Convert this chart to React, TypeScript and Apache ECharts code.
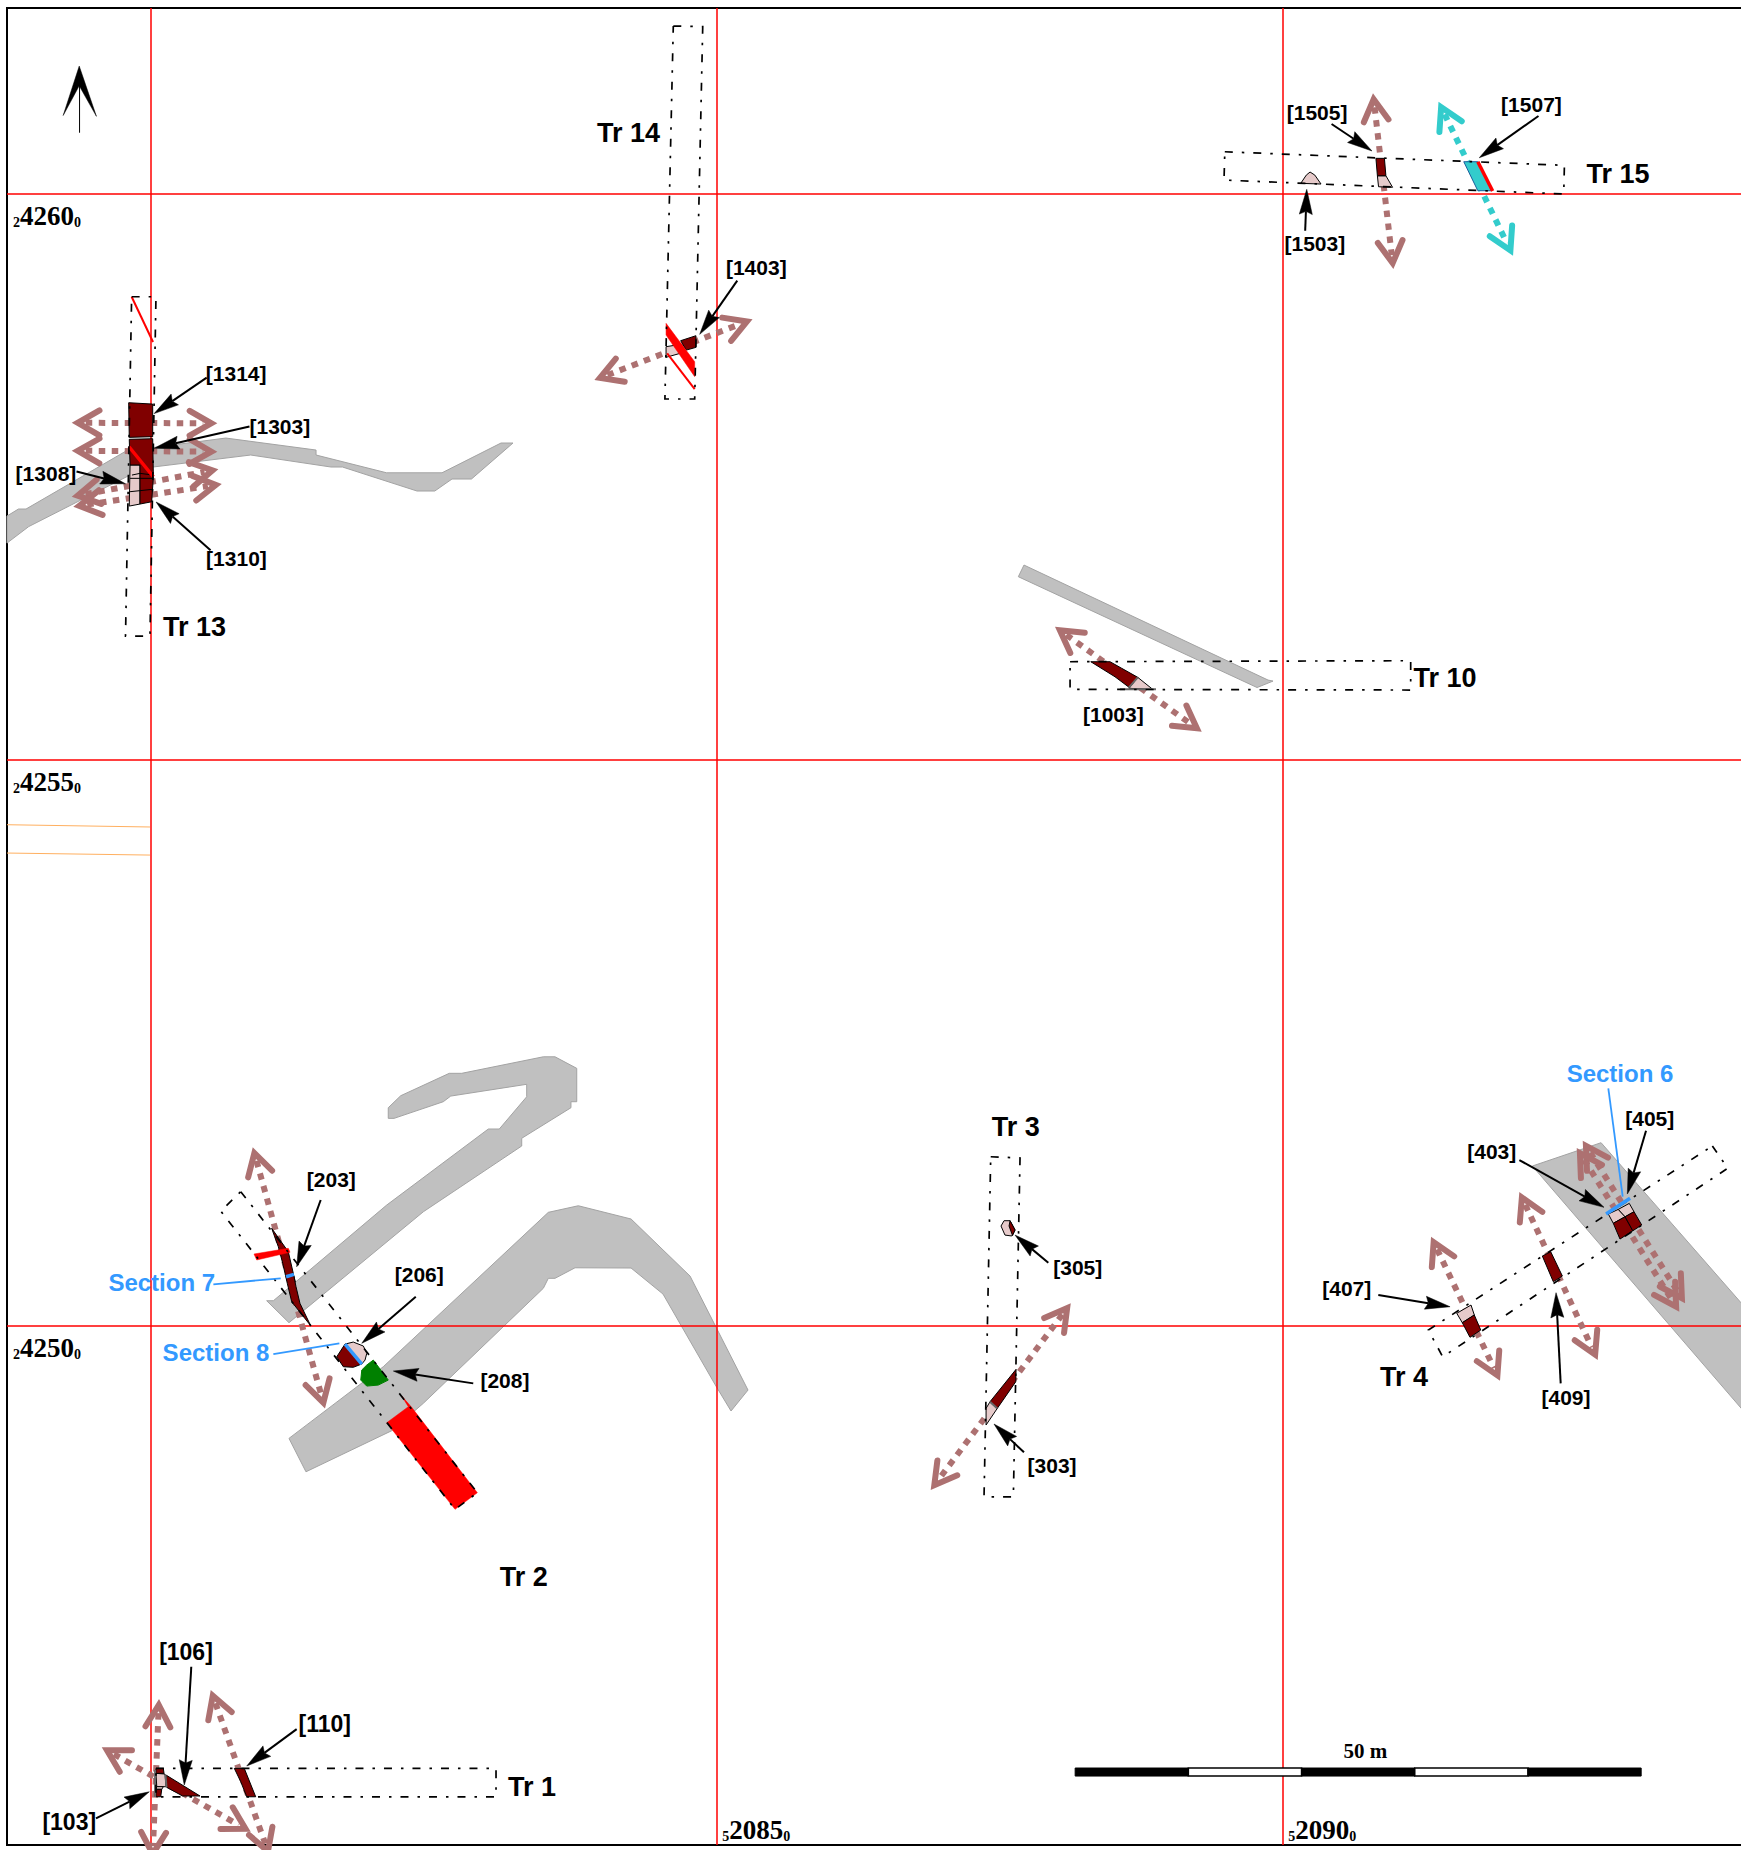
import React, { useEffect, useRef } from "react";
import * as echarts from "echarts";

type P = [number, number];

// Grid origin of the survey (easting, northing); every shape below is metres from it.
const E0 = 520800;
const N0 = 242500;
const eastings = [520800, 520850, 520900];
const eastingLabels = [520850, 520900];
const northings = [242500, 242550, 242600];

const greyDeposits: P[][] = [
  [[-12.66, 71.52], [-11.65, 72.14], [-10.98, 72.14], [-2.15, 77.26], [6.67, 78.41], [14.64, 77.35], [14.64, 76.91], [20.87, 75.34], [25.77, 75.34], [30.98, 77.97], [32.04, 77.97], [28.37, 74.79], [26.65, 74.79], [25.13, 73.73], [23.56, 73.73], [16.98, 75.85], [15.96, 75.85], [8.87, 76.91], [0.24, 75.85], [-1.79, 75.14], [-10.74, 70.59], [-12.66, 69.13]],
  [[77.18, 67.19], [98.74, 57.03], [99.18, 56.94], [97.77, 56.37], [76.68, 66.16]],
  [[10.28, 2.2], [10.87, 2.2], [20.88, 10.65], [29.86, 17.37], [30.83, 17.37], [33.25, 20.22], [33.25, 21.32], [26.54, 20.28], [25.88, 19.78], [21.53, 18.31], [21.02, 18.31], [21.02, 19.25], [22.12, 20.31], [26.41, 22.29], [27.51, 22.29], [34.72, 23.75], [35.75, 23.75], [37.67, 22.73], [37.67, 19.78], [37.16, 19.78], [37.16, 19.25], [32.81, 16.55], [32.81, 15.87], [24.12, 10.06], [12.25, 0.26]],
  [[12.25, -9.96], [20.58, -3.63], [35.16, 10.01], [37.81, 10.59], [42.47, 9.42], [47.68, 4.38], [52.8, -5.69], [51.3, -7.54], [49.97, -5.34], [45.29, 2.79], [42.47, 5.09], [37.52, 5.11], [35.75, 4.18], [35.16, 4.18], [34.72, 3.3], [24.12, -6.86], [21.33, -9.28], [13.75, -12.91]],
  [[122.09, 14.1], [128.16, 16.16], [141.32, 1.11], [141.32, -8.21]],
];

const orangeLines: P[][] = [
  [[-12.66, 44.25], [-0.03, 44.05]],
  [[-12.66, 41.75], [-0.03, 41.57]],
];

const brownArrows: P[][] = [
  [[-6.94, 79.76], [5.92, 79.71]],
  [[-6.94, 77.29], [5.92, 77.2]],
  [[-6.94, 73.22], [6.01, 75.65]],
  [[-6.8, 72.34], [6.31, 74.35]],
  [[39.23, 83.53], [53.2, 88.9]],
  [[108.01, 108.86], [109.81, 93.34]],
  [[79.92, 61.74], [92.88, 52.46]],
  [[9.05, 15.75], [15.43, -7.31]],
  [[0.77, -32.99], [0.19, -47.21]],
  [[-4.29, -37.25], [8.87, -44.71]],
  [[5.34, -32.19], [10.57, -46.94]],
  [[113.14, 7.85], [119.23, -4.87]],
  [[120.94, 11.8], [127.86, -3.04]],
  [[126.54, 16.33], [135.58, 1.97]],
  [[126.01, 15.69], [135.07, 1.23]],
  [[81.31, 1.97], [68.94, -14.52]],
];
const cyanArrows: P[][] = [[[113.8, 108.12], [120.38, 94.51]]];

const trenchOutlines: P[][] = [
  [[-1.65, 90.89], [0.5, 90.89], [-0.03, 60.92], [-2.19, 60.92]],
  [[46.2, 114.81], [48.8, 114.75], [48.09, 81.86], [45.46, 81.86]],
  [[94.92, 103.7], [124.92, 102.5], [124.86, 99.97], [94.85, 101.2]],
  [[81.25, 58.65], [111.34, 58.74], [111.34, 56.15], [81.25, 56.21]],
  [[7.99, 11.83], [28.89, -14.76], [26.92, -16.23], [6.22, 10.12]],
  [[74.24, 14.92], [76.83, 14.81], [76.24, -15.12], [73.65, -15.12]],
  [[137.99, 15.87], [139.35, 13.9], [114.17, -2.75], [112.9, -0.39]],
  [[0.5, -39.11], [30.54, -39.11], [30.54, -41.62], [0.5, -41.62]],
];

const pinkCuts: P[][] = [
  [[-1.79, 76.03], [-0.91, 76.03], [-0.91, 72.58], [-1.86, 72.4]],
  [[45.56, 86.48], [46.5, 86.63], [47.01, 85.95], [45.56, 85.54]],
  [[101.63, 100.91], [102.12, 101.64], [102.45, 101.91], [102.87, 101.64], [103.42, 100.85]],
  [[108.4, 101.58], [109.15, 101.58], [109.74, 100.56], [108.5, 100.61]],
  [[87.23, 57.27], [88.55, 56.21], [86.46, 56.3]],
  [[12.05, 4.27], [12.69, 4.38], [12.81, 3.85], [12.16, 3.74]],
  [[17.2, -1.63], [17.93, -1.45], [18.82, -1.8], [19.12, -2.45], [18.97, -3.04], [18.68, -3.39]],
  [[74.18, -6.72], [74.82, -7.31], [73.83, -8.78], [73.83, -7.31]],
  [[75.42, 9.27], [75.95, 9.27], [76.39, 8.45], [76.1, 7.92], [75.5, 8.0], [75.15, 8.8]],
  [[115.41, 1.09], [116.67, 1.82], [116.96, 0.94], [115.9, 0.26]],
  [[128.8, 9.86], [129.68, 10.27], [130.28, 9.62], [129.24, 9.04]],
  [[129.68, 10.27], [130.65, 10.8], [131.07, 10.06], [130.28, 9.62]],
  [[0.5, -39.55], [1.3, -39.61], [1.39, -40.73], [0.57, -40.73]],
  [[0.57, -40.73], [1.15, -40.73], [1.01, -40.96], [0.5, -40.96]],
];

const darkCuts: P[][] = [
  [[-1.91, 81.53], [0.21, 81.41], [0.21, 78.53], [-1.86, 78.47]],
  [[-1.86, 78.3], [0.21, 78.35], [0.27, 74.99], [0.12, 72.78], [-0.91, 72.58], [-0.91, 76.03], [-1.79, 76.03]],
  [[46.85, 87.01], [48.2, 87.45], [48.2, 86.42], [47.35, 86.18]],
  [[108.27, 103.12], [109.02, 103.12], [109.15, 101.58], [108.4, 101.58]],
  [[83.08, 58.65], [84.78, 58.65], [85.81, 58.07], [87.23, 57.27], [86.46, 56.39], [85.22, 57.32]],
  [[10.72, 8.6], [12.19, 6.53], [12.63, 4.62], [12.87, 3.44], [13.22, 1.97], [14.17, -0.01], [12.49, 2.11], [12.1, 3.74], [11.7, 5.5], [11.31, 6.97]],
  [[16.47, -2.75], [17.2, -1.63], [18.68, -3.39], [17.93, -3.68], [17.05, -3.63]],
  [[76.48, -3.86], [76.45, -4.96], [74.82, -7.31], [74.18, -6.72]],
  [[75.95, 9.27], [76.39, 8.45], [76.17, 7.96], [75.86, 8.8]],
  [[115.9, 0.26], [116.96, 0.94], [117.53, -0.39], [116.58, -1.03]],
  [[122.97, 6.15], [123.71, 6.53], [124.74, 4.38], [123.94, 3.88]],
  [[129.24, 9.04], [130.28, 9.62], [130.96, 8.38], [129.83, 7.65]],
  [[130.28, 9.62], [131.07, 10.06], [131.75, 8.89], [130.96, 8.38]],
  [[0.5, -39.11], [1.15, -39.11], [1.21, -39.55], [0.5, -39.55]],
  [[0.5, -40.96], [1.01, -40.96], [0.92, -41.62], [0.5, -41.62]],
  [[1.39, -39.7], [4.39, -41.55], [2.86, -41.55], [1.45, -40.79]],
  [[7.42, -39.11], [8.3, -39.11], [9.31, -41.62], [8.52, -41.62], [7.99, -40.29]],
];

const cyanCuts: P[][] = [[[116.03, 102.82], [117.27, 102.82], [118.48, 100.26], [117.27, 100.26]]];
const greenCuts: P[][] = [[[19.7, -3.04], [21.02, -4.81], [20.14, -5.25], [19.12, -5.34], [18.59, -4.81], [18.68, -3.92], [19.12, -3.48]]];
const redBlocks: P[][] = [
  [[45.56, 88.54], [48.09, 85.15], [48.09, 83.83], [45.56, 87.51]],
  [[9.16, 6.33], [12.19, 6.83], [12.34, 6.48], [9.4, 5.8]],
  [[20.88, -8.58], [22.79, -7.16], [22.21, -6.22], [23.09, -7.22], [28.89, -14.76], [26.92, -16.23]],
];
const redThinLines: P[][] = [
  [[-1.65, 90.89], [0.24, 86.89]],
  [[45.66, 85.89], [48.09, 82.74]],
];
const redThickLines: P[][] = [
  [[-1.88, 77.64], [0.27, 74.99]],
  [[117.27, 102.82], [118.58, 100.23]],
];
const blueSections: P[][] = [
  [[11.99, 4.32], [12.69, 4.53]],
  [[17.2, -1.63], [18.68, -3.39]],
  [[128.6, 9.86], [130.72, 11.25]],
];
const blueLeaders: P[][] = [
  [[5.57, 3.65], [11.52, 4.18]],
  [[10.87, -2.51], [16.7, -1.56]],
  [[128.8, 20.96], [130.07, 11.39]],
];
const blackSeams: P[][] = [
  [[-1.79, 74.85], [0.21, 74.85]],
  [[-1.79, 73.67], [0.21, 73.88]],
  [[-1.62, 75.14], [-0.91, 75.29], [0.24, 75.14]],
];
const greySeams: P[][] = [
  [[87.23, 57.27], [86.46, 56.39]],
  [[85.66, 56.21], [88.84, 56.21]],
  [[74.18, -6.72], [74.82, -7.31]],
  [[0.42, -39.26], [0.42, -41.64]],
  [[1.34, -39.7], [1.43, -40.76]],
];

const leaderArrows: P[][] = [
  [[4.98, 83.75], [0.34, 80.57]],
  [[8.76, 79.43], [0.34, 77.51]],
  [[-6.52, 75.46], [-2.19, 74.37]],
  [[5.32, 68.5], [0.51, 72.76]],
  [[51.85, 92.31], [48.53, 87.57]],
  [[104.35, 106.15], [107.92, 103.77]],
  [[122.63, 106.86], [117.4, 103.17]],
  [[102.02, 96.72], [102.16, 100.38]],
  [[15.05, 11.1], [12.93, 5.2]],
  [[23.45, 2.55], [18.68, -1.56]],
  [[28.53, -5.1], [21.47, -4.01]],
  [[3.62, -30.13], [3.0, -40.58]],
  [[12.93, -35.64], [8.52, -38.9]],
  [[-4.8, -43.52], [-0.09, -41.18]],
  [[120.94, 14.63], [128.42, 10.45]],
  [[132.13, 17.22], [130.48, 11.63]],
  [[108.48, 2.7], [114.82, 1.67]],
  [[124.59, -5.1], [124.18, 2.91]],
  [[79.33, 5.56], [76.39, 8.0]],
  [[77.18, -11.19], [74.53, -8.69]],
];

const northArrowShaft: P[][] = [[[-6.25, 110.97], [-6.25, 105.38]]];
const northArrowHead: P[][] = [[[-6.28, 111.27], [-4.76, 106.83], [-6.28, 109.53], [-7.7, 106.9]]];

const scaleBarStart = 81.7;
const scaleBarTop = -39.08;
const scaleBarBottom = -39.79;
const scaleBarSegmentMetres = [10, 10, 10, 10, 10];

const cutLabels: [string, number, number][] = [
  ["[1314]", 7.58, 84.14], ["[1303]", 11.44, 79.46], ["[1308]", -9.22, 75.3], ["[1310]", 7.61, 67.73],
  ["[1403]", 53.53, 93.5], ["[1505]", 103.07, 107.18], ["[1507]", 122.01, 107.87], ["[1503]", 102.87, 95.62],
  ["[1003]", 85.07, 53.98], ["[203]", 15.99, 12.9], ["[206]", 23.76, 4.51], ["[208]", 31.33, -4.88],
  ["[305]", 81.93, 5.16], ["[303]", 79.66, -12.36], ["[405]", 132.46, 18.26], ["[403]", 118.5, 15.37],
  ["[407]", 105.69, 3.31], ["[409]", 125.06, -6.32],
];
const cutLabelsLarge: [string, number, number][] = [
  ["[106]", 3.15, -28.86], ["[110]", 15.41, -35.19], ["[103]", -7.16, -43.88],
];
const trenchLabels: [string, number, number][] = [
  ["Tr 13", 3.9, 61.76], ["Tr 14", 42.24, 105.4], ["Tr 15", 129.66, 101.73], ["Tr 10", 114.37, 57.17],
  ["Tr 2", 32.99, -22.17], ["Tr 1", 33.72, -40.72], ["Tr 3", 76.45, 17.57], ["Tr 4", 110.75, -4.57],
];
const sectionLabels: [string, number, number][] = [
  ["Section 7", 1.01, 3.79], ["Section 8", 5.8, -2.39], ["Section 6", 129.83, 22.29],
];
const scaleLabels: [string, number, number][] = [["50 m", 107.33, -37.6]];

const RED = "#ff0000";
const BROWN = "#ad7171";
const CYAN = "#33cccc";
const BLUE = "#3399ff";
const SANS = "'Liberation Sans', Arial, sans-serif";
const SERIF = "'Liberation Serif', 'Times New Roman', serif";

const toPx = (api: any, p: P): number[] => api.coord([E0 + p[0], N0 + p[1]]);

function series<T>(name: string, items: T[], z: number, draw: (item: T, api: any, i: number) => any) {
  return {
    type: "custom",
    name,
    coordinateSystem: "cartesian2d",
    silent: true,
    clip: false,
    z,
    data: items.map((_, i) => [i, i]),
    renderItem: (params: any, api: any) => draw(items[params.dataIndex], api, params.dataIndex),
  };
}

const fillSeries = (name: string, polys: P[][], z: number, fill: string, stroke: string, lineWidth: number) =>
  series(name, polys, z, (poly, api) => ({
    type: "polygon",
    shape: { points: poly.map((p) => toPx(api, p)) },
    style: { fill, stroke, lineWidth },
  }));

const lineSeries = (name: string, lines: P[][], z: number, stroke: string, lineWidth: number, lineDash?: number[], closed = false) =>
  series(name, lines, z, (line, api) => ({
    type: "polyline",
    shape: { points: (closed ? [...line, line[0]] : line).map((p) => toPx(api, p)) },
    style: { fill: null, stroke, lineWidth, lineDash: lineDash ?? null },
  }));

function doubleArrow(pair: P[], api: any, colour: string) {
  const a = toPx(api, pair[0]);
  const b = toPx(api, pair[1]);
  const len = Math.hypot(b[0] - a[0], b[1] - a[1]);
  const ux = (b[0] - a[0]) / len;
  const uy = (b[1] - a[1]) / len;
  const width = 6;
  const head = (tip: number[], dx: number, dy: number) => {
    const inset = 6;
    const vx = tip[0] + dx * inset;
    const vy = tip[1] + dy * inset;
    const arm = 25;
    const cos = Math.cos(0.52);
    const sin = Math.sin(0.52);
    return {
      type: "polyline",
      shape: {
        points: [
          [vx + arm * (dx * cos - dy * sin), vy + arm * (dy * cos + dx * sin)],
          [vx, vy],
          [vx + arm * (dx * cos + dy * sin), vy + arm * (dy * cos - dx * sin)],
        ],
      },
      style: { fill: null, stroke: colour, lineWidth: width, lineCap: "round", lineJoin: "miter" },
    };
  };
  return {
    type: "group",
    children: [
      {
        type: "line",
        shape: { x1: a[0] + ux * 14, y1: a[1] + uy * 14, x2: b[0] - ux * 14, y2: b[1] - uy * 14 },
        style: { stroke: colour, lineWidth: width, lineDash: [6.5, 6.5] },
      },
      head(a, ux, uy),
      head(b, -ux, -uy),
    ],
  };
}

function leader(pair: P[], api: any) {
  const a = toPx(api, pair[0]);
  const t = toPx(api, pair[1]);
  const len = Math.hypot(t[0] - a[0], t[1] - a[1]);
  const ux = (t[0] - a[0]) / len;
  const uy = (t[1] - a[1]) / len;
  const hl = 25;
  const hw = 6.5;
  const bx = t[0] - ux * hl;
  const by = t[1] - uy * hl;
  const nx = t[0] - ux * (hl - 3);
  const ny = t[1] - uy * (hl - 3);
  return {
    type: "group",
    children: [
      { type: "line", shape: { x1: a[0], y1: a[1], x2: nx, y2: ny }, style: { stroke: "#000", lineWidth: 2 } },
      {
        type: "polygon",
        shape: { points: [t, [bx - uy * hw, by + ux * hw], [nx, ny], [bx + uy * hw, by - ux * hw]] },
        style: { fill: "#000", stroke: "#000", lineWidth: 0.5 },
      },
    ],
  };
}

const textSeries = (name: string, labels: [string, number, number][], fontSize: number, fill: string, fontFamily: string) =>
  series(name, labels, 20, (label, api) => {
    const c = toPx(api, [label[1], label[2]]);
    return {
      type: "text",
      x: c[0],
      y: c[1],
      style: { text: label[0], fontSize, fontWeight: "bold", fontFamily, fill, align: "center", verticalAlign: "middle" },
    };
  });

const coordLabel = (v: number) => {
  const s = String(Math.round(v));
  return `{s|${s[0]}}{b|${s.slice(1, 5)}}{s|${s[5]}}`;
};
const coordRich = {
  s: { fontFamily: SERIF, fontWeight: "bold", fontSize: 14, color: "#000", verticalAlign: "bottom" },
  b: { fontFamily: SERIF, fontWeight: "bold", fontSize: 27, color: "#000", verticalAlign: "bottom" },
};

const scaleBars = scaleBarSegmentMetres.map((w, i) => ({
  from: scaleBarStart + scaleBarSegmentMetres.slice(0, i).reduce((a, b) => a + b, 0),
  to: scaleBarStart + scaleBarSegmentMetres.slice(0, i + 1).reduce((a, b) => a + b, 0),
  black: i % 2 === 0,
}));

export default function App() {
  const ref = useRef<HTMLDivElement>(null);
  useEffect(() => {
    if (!ref.current) return;
    const chart = echarts.init(ref.current, undefined, { renderer: "svg" });
    chart.setOption({
      animation: false,
      backgroundColor: "#fff",
      grid: { show: true, left: 7, top: 8, width: 1746, height: 1837, outerBoundsMode: "none", borderColor: "#000", borderWidth: 2, backgroundColor: "transparent" },
      xAxis: {
        type: "value",
        z: 3,
        min: E0 - 12.66,
        max: E0 + 141.58,
        axisLine: { show: false },
        axisTick: { show: false, customValues: eastings },
        splitLine: { show: true, lineStyle: { color: RED, width: 1.5 } },
        axisLabel: {
          inside: true,
          margin: 2,
          align: "left",
          verticalAlign: "bottom",
          padding: [0, 0, 0, 6],
          customValues: eastingLabels,
          formatter: coordLabel,
          rich: coordRich,
        },
      },
      yAxis: {
        type: "value",
        z: 3,
        min: N0 - 45.88,
        max: N0 + 116.4,
        axisLine: { show: false },
        axisTick: { show: false, customValues: northings },
        splitLine: { show: true, lineStyle: { color: RED, width: 1.5 } },
        axisLabel: {
          inside: true,
          margin: 6,
          align: "left",
          verticalAlign: "top",
          padding: [9, 0, 0, 0],
          customValues: northings,
          formatter: coordLabel,
          rich: coordRich,
        },
      },
      series: [
        fillSeries("Grey deposits", greyDeposits, 1, "#c0c0c0", "#a3a3a3", 1),
        lineSeries("Orange lines", orangeLines, 4, "#ffb060", 1),
        series("Brown arrows", brownArrows, 5, (pair, api) => doubleArrow(pair, api, BROWN)),
        series("Cyan arrows", cyanArrows, 5, (pair, api) => doubleArrow(pair, api, CYAN)),
        fillSeries("Pink cuts", pinkCuts, 6, "#e6caca", "#000", 1),
        fillSeries("Dark cuts", darkCuts, 6, "#800000", "#000", 1),
        fillSeries("Cyan cuts", cyanCuts, 6, CYAN, "#1a5f9e", 1),
        fillSeries("Green cuts", greenCuts, 6, "#008000", "#008000", 1),
        lineSeries("Seams", blackSeams, 7, "#000", 1),
        lineSeries("Grey seams", greySeams, 7, "#666", 2),
        fillSeries("Red blocks", redBlocks, 7, RED, RED, 0.5),
        lineSeries("Red thin lines", redThinLines, 7, RED, 2),
        lineSeries("Red thick lines", redThickLines, 7, RED, 3.5),
        lineSeries("Trench outlines", trenchOutlines, 8, "#000", 1.7, [8, 9, 2.5, 9], true),
        lineSeries("Blue sections", blueSections, 9, BLUE, 3.5),
        lineSeries("Blue leaders", blueLeaders, 9, BLUE, 1.8),
        series("Leaders", leaderArrows, 10, leader),
        lineSeries("North shaft", northArrowShaft, 10, "#000", 1),
        fillSeries("North head", northArrowHead, 10, "#000", "#000", 0.5),
        series("Scale bar", scaleBars, 10, (seg, api) => {
          const a = toPx(api, [seg.from, scaleBarTop]);
          const b = toPx(api, [seg.to, scaleBarBottom]);
          return {
            type: "rect",
            shape: { x: a[0], y: a[1], width: b[0] - a[0], height: b[1] - a[1] },
            style: seg.black
              ? { fill: "#000", stroke: "#000", lineWidth: 1 }
              : { fill: "#fff", stroke: "#000", lineWidth: 1.5 },
          };
        }),
        textSeries("Cut labels", cutLabels, 21, "#000", SANS),
        textSeries("Cut labels large", cutLabelsLarge, 23, "#000", SANS),
        textSeries("Trench labels", trenchLabels, 27, "#000", SANS),
        textSeries("Section labels", sectionLabels, 24, BLUE, SANS),
        textSeries("Scale label", scaleLabels, 21, "#000", SERIF),
      ],
    });
    return () => chart.dispose();
  }, []);
  return <div ref={ref} style={{ position: "absolute", left: 0, top: 0, width: 1741, height: 1850 }} />;
}
